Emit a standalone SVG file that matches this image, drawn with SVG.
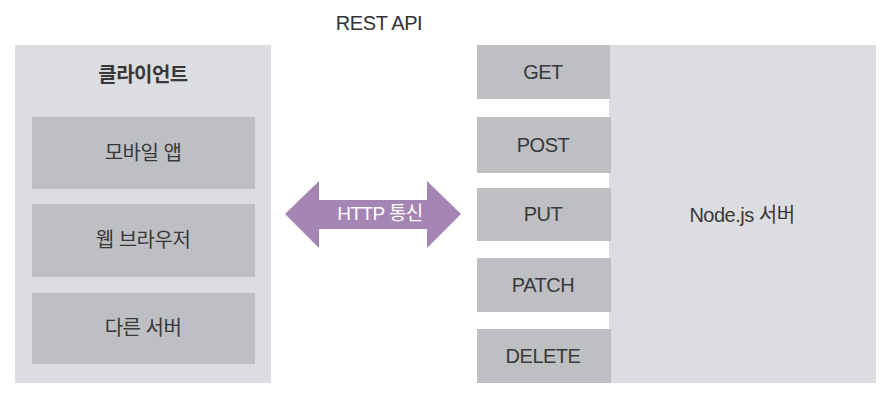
<svg xmlns="http://www.w3.org/2000/svg" width="891" height="394" viewBox="0 0 891 394">
<style>
.outer{fill:#dcdde0}
.inner{fill:#bebfc3}
.t{font-family:"Liberation Sans","Noto Sans CJK KR",sans-serif;font-size:20px;fill:#333;text-anchor:middle;letter-spacing:-0.4px}
.k{font-family:"Liberation Sans","Noto Sans CJK KR",sans-serif;font-size:20px;fill:#383838;text-anchor:middle;letter-spacing:-0.5px}
.w{font-family:"Liberation Sans","Noto Sans CJK KR",sans-serif;font-size:19px;fill:#fff;text-anchor:middle;letter-spacing:-0.6px}
</style>
<rect width="891" height="394" fill="#fff"/>
<text class="t" x="379" y="30">REST API</text>
<g id="client">
<rect class="outer" x="15" y="45" width="256" height="338"/>
<text class="k" x="143" y="82" font-size="20" font-weight="bold" letter-spacing="0">클라이언트</text>
</g>
<g id="mobile-app">
<rect class="inner" x="32" y="117" width="223" height="72"/>
<text class="k" x="143" y="160" font-size="21">모바일 앱</text>
</g>
<g id="web-browser">
<rect class="inner" x="32" y="204" width="223" height="73"/>
<text class="k" x="143" y="247" font-size="21">웹 브라우저</text>
</g>
<g id="other-server">
<rect class="inner" x="32" y="293" width="223" height="71"/>
<text class="k" x="143" y="335" font-size="21">다른 서버</text>
</g>
<g id="node-server">
<rect class="outer" x="609" y="45" width="267" height="338"/>
<text class="k" x="742" y="222" font-size="21">Node.js 서버</text>
</g>
<g id="get">
<rect class="inner" x="477" y="45" width="133" height="54"/>
<text class="k" x="543" y="79">GET</text>
</g>
<g id="post">
<rect class="inner" x="477" y="117" width="134" height="56"/>
<text class="k" x="543" y="152">POST</text>
</g>
<g id="put">
<rect class="inner" x="477" y="188" width="134" height="53"/>
<text class="k" x="543" y="221">PUT</text>
</g>
<g id="patch">
<rect class="inner" x="477" y="258" width="134" height="54"/>
<text class="k" x="543" y="292">PATCH</text>
</g>
<g id="delete">
<rect class="inner" x="477" y="329" width="134" height="54"/>
<text class="k" x="543" y="363">DELETE</text>
</g>
<g id="connectors">
<polygon points="285,214 319,181 319,200 427,200 427,181 461,214 427,248 427,229 319,229 319,248" fill="#a585b3"/>
<text class="w" x="380" y="220">HTTP 통신</text>
</g>
</svg>
